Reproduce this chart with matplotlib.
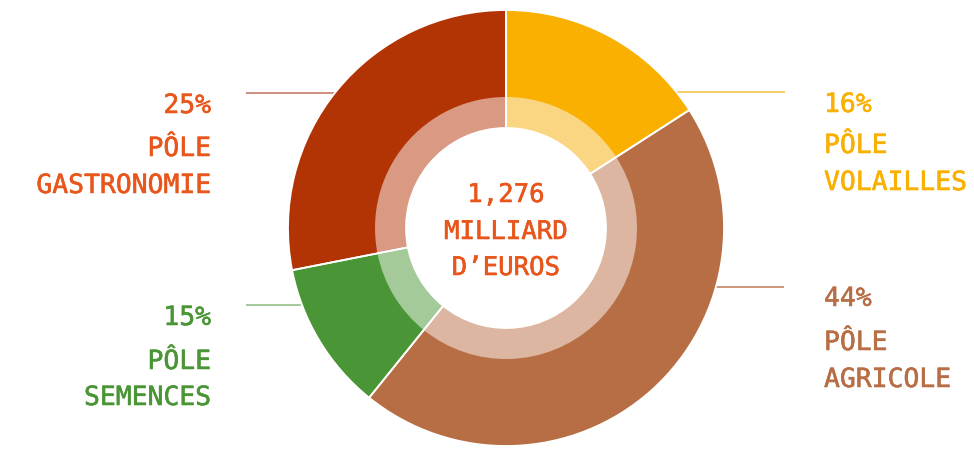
import matplotlib
matplotlib.use("Agg")
import matplotlib.pyplot as plt
import matplotlib.patheffects as pe
import numpy as np

# slices, clockwise from 12 o'clock
poles = ["VOLAILLES", "AGRICOLE", "SEMENCES", "GASTRONOMIE"]
pct_labels = ["16%", "44%", "15%", "25%"]
share_drawn = [15.9, 44.9, 11.1, 28.1]
total_label = ["1,276", "MILLIARD", "D\u2019EUROS"]

dark = ["#F9B000", "#B86E45", "#4A9535", "#B23405"]
light = ["#FAD682", "#DCB6A0", "#A4CA99", "#D99983"]
text_col = ["#F9B000", "#B86E45", "#4A9535", "#E8561B"]
line_col = ["#F9CA5C", "#C98D6E", "#9EC591", "#C98672"]

W, H = 974, 451
FONT = "DejaVu Sans Mono"

fig = plt.figure(figsize=(W / 100, H / 100), dpi=100)
ax = fig.add_axes([0, 0, 1, 1])

cx, cy = 506, H - 228
R, r_mid, r_in = 218, 131, 100

#########################################
# leader lines (ending under the outer ring)
#########################################
# (pixel y of line, x of free end)
leaders = {"VOLAILLES": (92, 785), "AGRICOLE": (287, 784),
           "SEMENCES": (305, 246), "GASTRONOMIE": (93, 246)}
for i, p in enumerate(poles):
    ly, lx = leaders[p]
    dy = (H - ly) - cy
    reach = np.sqrt((R - 15) ** 2 - dy ** 2)
    xend = cx + np.sign(lx - cx) * reach
    ax.plot([lx, xend], [H - ly, H - ly], color=line_col[i], lw=1.3,
            zorder=0, solid_capstyle="butt")

#########################################
# donut: dark outer ring + light inner ring
#########################################
ax.pie(share_drawn, colors=dark, radius=R, center=(cx, cy), startangle=90,
       counterclock=False, wedgeprops=dict(width=R - r_mid + 2, linewidth=0),
       frame=True)
ax.pie(share_drawn, colors=light, radius=r_mid, center=(cx, cy), startangle=90,
       counterclock=False, wedgeprops=dict(width=r_mid - r_in, linewidth=0),
       frame=True)
# white separators through both rings
ax.pie(share_drawn, colors=["none"] * 4, radius=R, center=(cx, cy),
       startangle=90, counterclock=False,
       wedgeprops=dict(width=R - r_in, linewidth=1.3, edgecolor="white",
                       facecolor="none"),
       frame=True)

#########################################
# labels
#########################################
def thicken(c):
    # a bit heavier than regular, lighter than bold
    return [pe.Stroke(linewidth=0.4, foreground=c), pe.Normal()]

# x anchor, alignment, baselines (pixels) for pct / POLE / name
pos = {"VOLAILLES": (824, "left", (112, 153, 190)),
       "AGRICOLE": (824, "left", (306, 350, 387)),
       "SEMENCES": (211, "right", (325, 369, 405)),
       "GASTRONOMIE": (211, "right", (113, 156, 193))}
for i, p in enumerate(poles):
    x, ha, ys = pos[p]
    for txt, y in zip([pct_labels[i], "P\u00d4LE", p], ys):
        ax.text(x, H - y, txt, ha=ha, va="baseline", color=text_col[i],
                fontsize=19, family=FONT, path_effects=thicken(text_col[i]))

for txt, y in zip(total_label, (202, 239, 275)):
    ax.text(cx, H - y, txt, ha="center", va="baseline", color="#E8561B",
            fontsize=18.5, family=FONT, path_effects=thicken("#E8561B"))

ax.set_xlim(0, W)
ax.set_ylim(0, H)
ax.set_aspect("equal")
ax.axis("off")

fig.savefig("out.png", dpi=100, facecolor="white")
